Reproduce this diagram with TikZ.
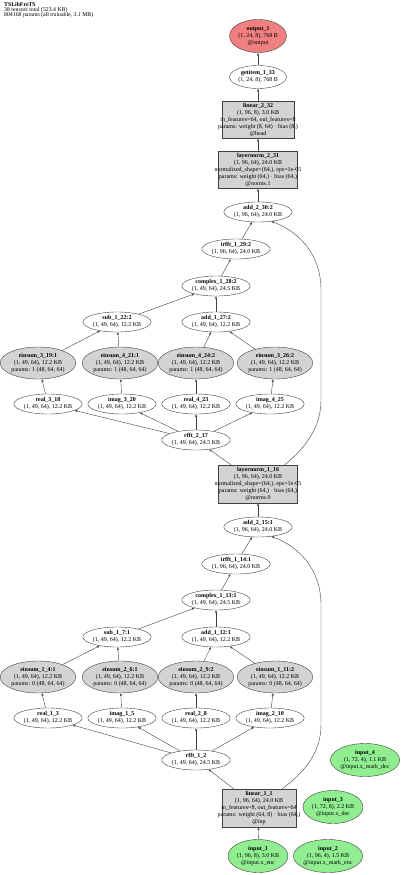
\documentclass[tikz,border=0pt]{standalone}
\usepackage{fontspec}
\setmainfont{Liberation Serif}
\usetikzlibrary{shapes.geometric,arrows.meta}
\definecolor{gfill}{HTML}{D3D3D3}
\definecolor{rfill}{HTML}{F08080}
\definecolor{grfill}{HTML}{90EE90}
\newcommand{\fitline}[1]{\makebox[66pt][c]{#1}}
\begin{document}
\begin{tikzpicture}[x=1pt,y=-1pt,
  base/.style={font=\fontsize{6}{7}\selectfont, align=center, draw=black!75, line width=0.4pt, inner sep=0pt},
  opnode/.style={base, ellipse, minimum width=67pt, minimum height=20pt},
  einnode/.style={base, ellipse, fill=gfill, minimum width=73pt, minimum height=32pt},
  boxnode/.style={base, rectangle, fill=gfill, inner sep=1pt},
  innode/.style={base, ellipse, fill=grfill, minimum width=60pt, minimum height=33pt},
  outnode/.style={base, ellipse, fill=rfill, minimum width=57pt, minimum height=33pt},
  arr/.style={-{Stealth[length=3pt,width=2.2pt]}, draw=black!75, line width=0.4pt}
]
\useasboundingbox (0,0) rectangle (400,875);
\node[anchor=north west, align=left, font=\fontsize{5.8}{5.3}\selectfont, inner sep=0pt] (hdr) at (4,2) {\textbf{TSLibFreTS}\\38 tensors total (523.4 KB)\\804168 params (all trainable, 3.1 MB)};

% top part
\node[outnode] (out) at (258,36) {\textbf{output\_1}\\(1, 24, 8), 768 B\\@output};
\node[opnode, minimum width=57pt, minimum height=23pt] (get) at (258,77) {\textbf{getitem\_1\_33}\\(1, 24, 8), 768 B};
\node[boxnode, minimum width=72pt, minimum height=37pt] (lin2) at (258,120) {\textbf{linear\_2\_32}\\(1, 96, 8), 3.0 KB\\\fitline{in\_features=64, out\_features=8}\\\fitline{params: weight (8, 64) $\cdot$ bias (8,)}\\@head};
\node[boxnode, minimum width=79pt, minimum height=37pt] (ln2) at (258,170) {\textbf{layernorm\_2\_31}\\(1, 96, 64), 24.0 KB\\\fitline{normalized\_shape=(64,), eps=1e-05}\\\fitline{params: weight (64,) $\cdot$ bias (64,)}\\@norms.1};
\node[opnode] (add230) at (258,212) {\textbf{add\_2\_30:2}\\(1, 96, 64), 24.0 KB};
\node[opnode] (irf29) at (236,249) {\textbf{irfft\_1\_29:2}\\(1, 96, 64), 24.0 KB};
\node[opnode] (cpx28) at (216,286) {\textbf{complex\_1\_28:2}\\(1, 49, 64), 24.5 KB};
\node[opnode] (sub22) at (117,322) {\textbf{sub\_1\_22:2}\\(1, 49, 64), 12.2 KB};
\node[opnode] (add27) at (216,322) {\textbf{add\_1\_27:2}\\(1, 49, 64), 12.2 KB};
\node[einnode] (e319) at (38,363) {\textbf{einsum\_3\_19:1}\\(1, 49, 64), 12.2 KB\\params: 1 (48, 64, 64)};
\node[einnode] (e421) at (120,363) {\textbf{einsum\_4\_21:1}\\(1, 49, 64), 12.2 KB\\params: 1 (48, 64, 64)};
\node[einnode] (e424) at (196,363) {\textbf{einsum\_4\_24:2}\\(1, 49, 64), 12.2 KB\\params: 1 (48, 64, 64)};
\node[einnode] (e326) at (275,363) {\textbf{einsum\_3\_26:2}\\(1, 49, 64), 12.2 KB\\params: 1 (48, 64, 64)};
\node[opnode] (re318) at (48,404) {\textbf{real\_3\_18}\\(1, 49, 64), 12.2 KB};
\node[opnode] (im320) at (122,404) {\textbf{imag\_3\_20}\\(1, 49, 64), 12.2 KB};
\node[opnode] (re423) at (196,404) {\textbf{real\_4\_23}\\(1, 49, 64), 12.2 KB};
\node[opnode] (im425) at (270,404) {\textbf{imag\_4\_25}\\(1, 49, 64), 12.2 KB};
\node[opnode] (rf217) at (196,440) {\textbf{rfft\_2\_17}\\(1, 49, 64), 24.5 KB};
\node[boxnode, minimum width=79pt, minimum height=38pt] (ln1) at (258,484) {\textbf{layernorm\_1\_16}\\(1, 96, 64), 24.0 KB\\\fitline{normalized\_shape=(64,), eps=1e-05}\\\fitline{params: weight (64,) $\cdot$ bias (64,)}\\@norms.0};

% bottom part
\node[opnode] (add215) at (258,527) {\textbf{add\_2\_15:1}\\(1, 96, 64), 24.0 KB};
\node[opnode] (irf14) at (236,564) {\textbf{irfft\_1\_14:1}\\(1, 96, 64), 24.0 KB};
\node[opnode] (cpx13) at (216,600) {\textbf{complex\_1\_13:1}\\(1, 49, 64), 24.5 KB};
\node[opnode] (sub7) at (117,637) {\textbf{sub\_1\_7:1}\\(1, 49, 64), 12.2 KB};
\node[opnode] (add12) at (216,637) {\textbf{add\_1\_12:1}\\(1, 49, 64), 12.2 KB};
\node[einnode] (e14) at (38,677) {\textbf{einsum\_1\_4:1}\\(1, 49, 64), 12.2 KB\\params: 0 (48, 64, 64)};
\node[einnode] (e26) at (120,677) {\textbf{einsum\_2\_6:1}\\(1, 49, 64), 12.2 KB\\params: 0 (48, 64, 64)};
\node[einnode] (e29) at (196,677) {\textbf{einsum\_2\_9:2}\\(1, 49, 64), 12.2 KB\\params: 0 (48, 64, 64)};
\node[einnode] (e111) at (275,677) {\textbf{einsum\_1\_11:2}\\(1, 49, 64), 12.2 KB\\params: 0 (48, 64, 64)};
\node[opnode] (re13) at (48,718) {\textbf{real\_1\_3}\\(1, 49, 64), 12.2 KB};
\node[opnode] (im15) at (122,718) {\textbf{imag\_1\_5}\\(1, 49, 64), 12.2 KB};
\node[opnode] (re28) at (196,718) {\textbf{real\_2\_8}\\(1, 49, 64), 12.2 KB};
\node[opnode] (im210) at (270,718) {\textbf{imag\_2\_10}\\(1, 49, 64), 12.2 KB};
\node[opnode] (rf12) at (196,760) {\textbf{rfft\_1\_2}\\(1, 49, 64), 24.5 KB};
\node[boxnode, minimum width=74pt, minimum height=38pt] (lin1) at (259,808) {\textbf{linear\_1\_1}\\(1, 96, 64), 24.0 KB\\\fitline{in\_features=8, out\_features=64}\\\fitline{params: weight (64, 8) $\cdot$ bias (64,)}\\@inp};
\node[innode] (in1) at (258,856) {\textbf{input\_1}\\(1, 96, 8), 3.0 KB\\@input.x\_enc};
\node[innode, minimum width=67pt] (in2) at (328,856) {\textbf{input\_2}\\(1, 96, 4), 1.5 KB\\@input.x\_mark\_enc};
\node[innode] (in3) at (333,807) {\textbf{input\_3}\\(1, 72, 8), 2.2 KB\\@input.x\_dec};
\node[innode, minimum width=66pt] (in4) at (365,760) {\textbf{input\_4}\\(1, 72, 4), 1.1 KB\\@input.x\_mark\_dec};

% edges top
\draw[arr] (get) -- (out);
\draw[arr] (lin2) -- (get);
\draw[arr] (ln2) -- (lin2);
\draw[arr] (add230) -- (ln2);
\draw[arr] (irf29) -- (add230);
\draw[arr] (cpx28) -- (irf29);
\draw[arr] (sub22) -- (cpx28);
\draw[arr] (add27) -- (cpx28);
\draw[arr] (e319) -- (sub22);
\draw[arr] (e421) -- (sub22);
\draw[arr] (e424) -- (add27);
\draw[arr] (e326) -- (add27);
\draw[arr] (re318) -- (e319);
\draw[arr] (im320) -- (e421);
\draw[arr] (re423) -- (e424);
\draw[arr] (im425) -- (e326);
\draw[arr] (rf217) -- (re318);
\draw[arr] (rf217) -- (im320);
\draw[arr] (rf217) -- (re423);
\draw[arr] (rf217) -- (im425);
\draw[arr] (ln1) -- (rf217);
\draw[arr] ([xshift=-13pt]ln1.north east) .. controls (305,448) and (321,428) .. (321,400) -- (321,290) .. controls (321,255) and (300,232) .. (add230.-35);

% edges bottom
\draw[arr] (add215) -- (ln1);
\draw[arr] (irf14) -- (add215);
\draw[arr] (cpx13) -- (irf14);
\draw[arr] (sub7) -- (cpx13);
\draw[arr] (add12) -- (cpx13);
\draw[arr] (e14) -- (sub7);
\draw[arr] (e26) -- (sub7);
\draw[arr] (e29) -- (add12);
\draw[arr] (e111) -- (add12);
\draw[arr] (re13) -- (e14);
\draw[arr] (im15) -- (e26);
\draw[arr] (re28) -- (e29);
\draw[arr] (im210) -- (e111);
\draw[arr] (rf12) -- (re13);
\draw[arr] (rf12) -- (im15);
\draw[arr] (rf12) -- (re28);
\draw[arr] (rf12) -- (im210);
\draw[arr] (lin1) -- (rf12);
\draw[arr] ([xshift=-14pt]lin1.north east) .. controls (305,772) and (321,752) .. (321,725) -- (321,605) .. controls (321,570) and (300,547) .. (add215.-35);
\draw[arr] (in1) -- (lin1);
\end{tikzpicture}
\end{document}
